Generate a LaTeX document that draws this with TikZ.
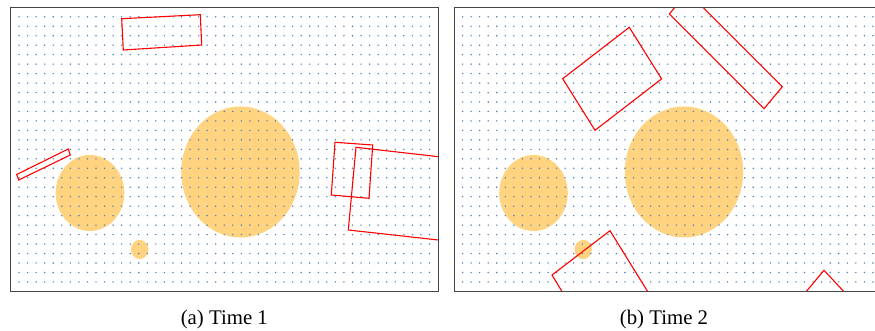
\documentclass[tikz,border=0pt]{standalone}
\usepackage{fontspec}
\setmainfont{Liberation Serif}
\definecolor{dotcol}{RGB}{70,130,185}
\definecolor{blobcol}{RGB}{255,211,128}
\definecolor{framecol}{RGB}{70,70,70}
\begin{document}
\begin{tikzpicture}[x=1pt,y=-1pt,
  frameline/.style={draw=framecol,line width=1pt},
  blob/.style={fill=blobcol},
  box/.style={draw=red,line width=1.1pt,line join=miter},
  griddot/.style={fill=dotcol},
  caption/.style={font=\fontsize{20.8}{24}\selectfont,anchor=base,inner sep=0pt}]
\useasboundingbox (0,0) rectangle (875,331);
% ---------- panel (a)
\fill[blob] (240.5,172) ellipse [x radius=59.2,y radius=65.5];
\fill[blob] (90,193) ellipse [x radius=34.3,y radius=38];
\fill[blob] (139.7,249.5) ellipse [x radius=8.7,y radius=9.6];
\foreach \i in {1,...,49}{\foreach \j in {1,...,29}{
  \fill[griddot] ({10.5+8.55*\i},{7.3+9.47*\j}) circle [radius=0.8];}}
\begin{scope}
\clip (10.5,7.3) rectangle (438,291);
\draw[box] (121.7,18.7) -- (200.3,14.7) -- (201.7,45) -- (123.3,50) -- cycle;
\draw[box] (16.7,174.5) -- (68.3,149) -- (70.3,155) -- (18.8,180) -- cycle;
\draw[box] (335,142.3) -- (372.7,145) -- (369,198.3) -- (331.3,195) -- cycle;
\draw[box] (356,147.3) -- (470,160.3) -- (470,243.5) -- (348.3,230) -- cycle;
\end{scope}
\draw[frameline] (10.5,7.3) rectangle (438,291);
% ---------- panel (b)
\fill[blob] (684,172) ellipse [x radius=59.2,y radius=65.5];
\fill[blob] (533.5,193) ellipse [x radius=34.3,y radius=38];
\fill[blob] (583.2,249.5) ellipse [x radius=8.7,y radius=9.6];
\foreach \i in {1,...,49}{\foreach \j in {1,...,29}{
  \fill[griddot] ({454+8.55*\i},{7.3+9.47*\j}) circle [radius=0.8];}}
\begin{scope}
\clip (454,7.3) rectangle (882,291);
\draw[box] (562.7,78.7) -- (629.3,27.3) -- (661.6,78.9) -- (595,130.3) -- cycle;
\draw[box] (669.3,14) -- (687.6,-8) -- (782.3,86.7) -- (764,108.7) -- cycle;
\draw[box] (552,275) -- (610,230.7) -- (666,321.2) -- (581,323) -- cycle;
\draw[box] (824,270.3) -- (862.6,311.7) -- (789.4,311.7) -- cycle;
\end{scope}
\draw[frameline] (875,7.3) -- (454,7.3) -- (454,291) -- (875,291);
% ---------- captions
\node[caption] (capa) at (224.3,324.3) {(a) Time 1};
\node[caption] (capb) at (664,324.3) {(b) Time 2};
\end{tikzpicture}
\end{document}
